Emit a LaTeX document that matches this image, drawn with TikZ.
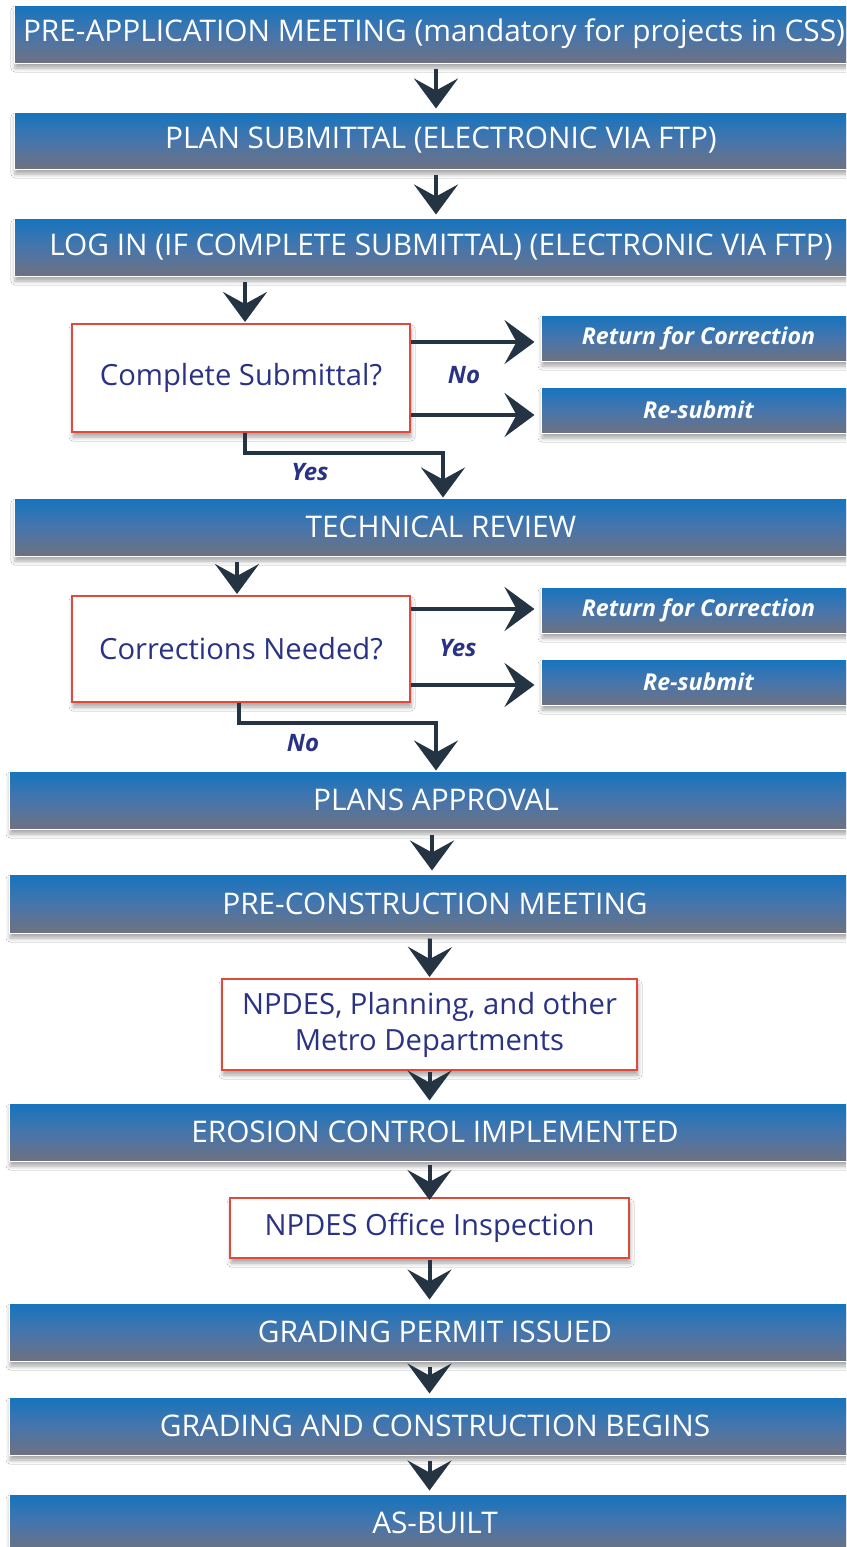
\documentclass[tikz,border=0pt]{standalone}
\usepackage{fontspec}
\setmainfont{Open Sans}
\usetikzlibrary{arrows.meta,shadows.blur,calc}
\definecolor{bantop}{RGB}{20,116,190}
\definecolor{banmid}{RGB}{70,117,172}
\definecolor{banbot}{RGB}{110,114,128}
\definecolor{navy}{RGB}{42,50,132}
\definecolor{boxred}{RGB}{224,74,60}
\definecolor{arrowc}{RGB}{37,52,66}
\newcommand\bannerfont{\fontsize{29.8}{34}\selectfont}
\newcommand\smallbanfont{\fontsize{23.2}{27}\selectfont\bfseries\itshape}
\newcommand\decfont{\fontsize{29.2}{36}\selectfont}
\newcommand\lblfont{\fontsize{24}{28}\selectfont\bfseries\itshape}
\begin{document}
\begin{tikzpicture}[x=1pt,y=-1pt,
  shadowed/.style={blur shadow={shadow xshift=1pt, shadow yshift=-5pt, shadow blur radius=4pt, shadow opacity=35}},
  banner/.style={shadowed, inner sep=0pt, top color=bantop, bottom color=banbot, middle color=banmid,
    draw=white, line width=1pt, text=white, font=\bannerfont},
  smallban/.style={banner, font=\smallbanfont, minimum width=315pt, minimum height=46pt},
  decbox/.style={shadowed, inner sep=0pt, fill=white, draw=boxred, line width=2pt, text=navy, font=\decfont, align=center},
  lbl/.style={text=navy, font=\lblfont, inner sep=0pt},
  arr/.style={draw=arrowc, line width=4pt, -{Stealth[length=30pt,width=44pt,inset=12pt]}},
]
\useasboundingbox (0,0) rectangle (846,1547);
\clip (0,0) rectangle (846,1547);
\fill[white] (0,0) rectangle (846,1547);

% banners
\node[banner, minimum width=840pt, minimum height=58pt] (b1) at (434,34) {PRE-APPLICATION MEETING (mandatory for projects in CSS)};
\node[banner, minimum width=854pt, minimum height=57pt] (b2) at (441,140.5) {PLAN SUBMITTAL (ELECTRONIC VIA FTP)};
\node[banner, minimum width=854pt, minimum height=58pt] (b3) at (441,247) {LOG IN (IF COMPLETE SUBMITTAL) (ELECTRONIC VIA FTP)};
\node[banner, minimum width=854pt, minimum height=58pt] (tr) at (441,527) {TECHNICAL REVIEW};
\node[banner, minimum width=854pt, minimum height=58pt] (pa) at (436,800) {PLANS APPROVAL};
\node[banner, minimum width=852pt, minimum height=59pt] (pc) at (435,903.5) {PRE-CONSTRUCTION MEETING};
\node[banner, minimum width=852pt, minimum height=58pt] (ec) at (435,1132) {EROSION CONTROL IMPLEMENTED};
\node[banner, minimum width=852pt, minimum height=58pt] (gp) at (435,1332) {GRADING PERMIT ISSUED};
\node[banner, minimum width=852pt, minimum height=58pt] (gc) at (435,1426) {GRADING AND CONSTRUCTION BEGINS};
\node[banner, minimum width=852pt, minimum height=58pt] (ab) at (435,1523) {AS-BUILT};

% decisions
\node[decbox, minimum width=338pt, minimum height=108pt] (d1) at (241,378) {Complete Submittal?};
\node[decbox, minimum width=338pt, minimum height=106pt] (d2) at (241,649) {Corrections Needed?};
\node[decbox, minimum width=415pt, minimum height=91pt] (np) at (429.5,1024.5) {NPDES, Planning, and other\\Metro Departments};
\node[decbox, minimum width=399pt, minimum height=60pt] (oi) at (429.5,1228) {NPDES Office Inspection};

% side boxes
\node[smallban] (r1) at (698.5,338) {Return for Correction};
\node[smallban] (s1) at (698.5,410) {Re-submit};
\node[smallban] (r2) at (698.5,610) {Return for Correction};
\node[smallban] (s2) at (698.5,682) {Re-submit};

% labels
\node[lbl] (no1) at (464,375) {No};
\node[lbl] (yes1) at (310,472) {Yes};
\node[lbl] (yes2) at (458,648) {Yes};
\node[lbl] (no2) at (303,743) {No};

% connectors
\draw[arr] ([xshift=2pt,yshift=-5pt]b1.south) -- ([xshift=-5pt,yshift=3pt]b2.north);
\draw[arr] ([xshift=-5pt,yshift=-5pt]b2.south) -- ([xshift=-5pt,yshift=3pt]b3.north);
\draw[arr] ([xshift=-196pt,yshift=-5pt]b3.south) -- ([xshift=4pt,yshift=1pt]d1.north);

\coordinate (d1a) at ([yshift=36pt]d1.east);
\coordinate (d1b) at ([yshift=-37pt]d1.east);
\draw[arr, shorten >=6pt] (d1a) -- (d1a -| r1.west);
\draw[arr, shorten >=6pt] (d1b) -- (d1b -| s1.west);
\coordinate (y1) at (443,453);
\draw[arr] ([xshift=4pt]d1.south) |- (y1) -- (y1 |- tr.north);

\draw[arr] ([xshift=-204pt,yshift=-5pt]tr.south) -- ([xshift=-4pt,yshift=1pt]d2.north);
\coordinate (d2a) at ([yshift=40pt]d2.east);
\coordinate (d2b) at ([yshift=-36pt]d2.east);
\draw[arr, shorten >=6pt] (d2a) -- (d2a -| r2.west);
\draw[arr, shorten >=6pt] (d2b) -- (d2b -| s2.west);
\coordinate (n2) at (436,723);
\draw[arr] ([xshift=-2pt]d2.south) |- (n2) -- (n2 |- pa.north);

\draw[arr] ([xshift=-4pt,yshift=-5pt]pa.south) -- ([xshift=-3pt,yshift=3pt]pc.north);
\draw[arr] ([xshift=-5pt,yshift=-5pt]pc.south) -- ([xshift=0pt,yshift=1pt]np.north);
\draw[arr] ([yshift=-1pt]np.south) -- ([xshift=-5.5pt,yshift=2pt]ec.north);
\draw[arr] ([xshift=-5.5pt,yshift=-3pt]ec.south) -- ([yshift=-3pt]oi.north);
\draw[arr] ([yshift=-1pt]oi.south) -- ([xshift=-5.5pt,yshift=3pt]gp.north);
\draw[arr] ([xshift=-5.5pt,yshift=-5pt]gp.south) -- ([xshift=-5.5pt,yshift=3pt]gc.north);
\draw[arr] ([xshift=-5.5pt,yshift=-5pt]gc.south) -- ([xshift=-5.5pt,yshift=3pt]ab.north);
\end{tikzpicture}
\end{document}
